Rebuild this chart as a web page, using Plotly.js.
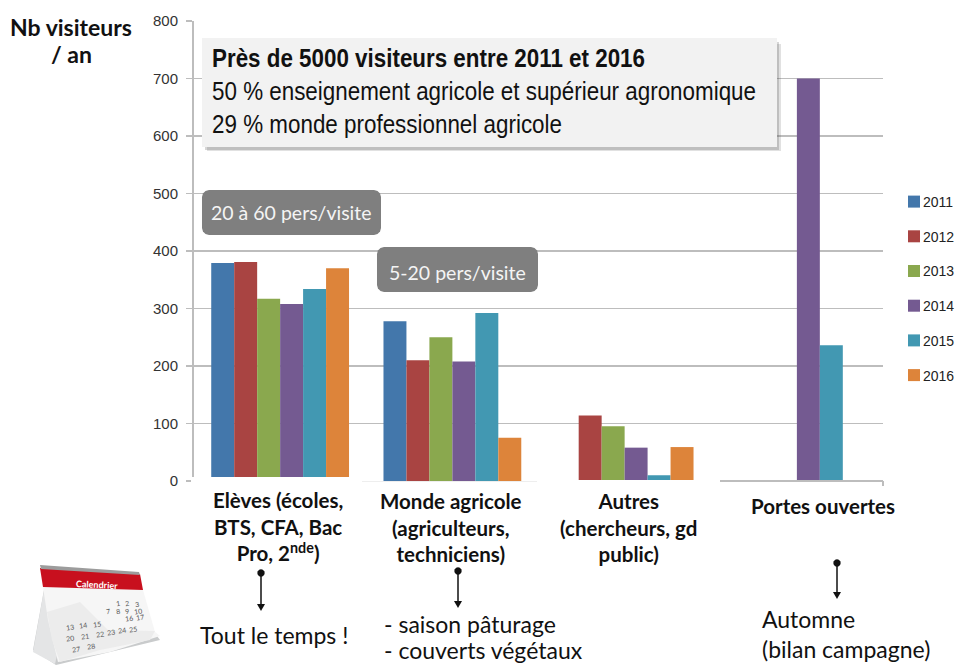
<!DOCTYPE html>
<html><head><meta charset="utf-8">
<script src="https://cdn.plot.ly/plotly-3.0.1.min.js"></script>
<style>html,body{margin:0;padding:0;background:#fff;overflow:hidden}</style></head>
<body><div style="width:957px;height:665px;overflow:hidden"><div id="chart"></div></div>
<script>
const categories = ["Elèves (écoles,<br>BTS, CFA, Bac<br>Pro, 2<sup>nde</sup>)", "Monde agricole<br>(agriculteurs,<br>techniciens)", "Autres<br>(chercheurs, gd<br>public)", "Portes ouvertes"];
const years = ["2011","2012","2013","2014","2015","2016"];
const v2011 = [379, 278, null, null];
const v2012 = [381, 210, 114, null];
const v2013 = [317, 250, 95, null];
const v2014 = [308, 208, 58, 700];
const v2015 = [334, 292, 10, 236];
const v2016 = [370, 75, 59, null];
const seriesValues = [v2011, v2012, v2013, v2014, v2015, v2016];
const colors = ["#4377ab","#a94442","#8aa84e","#745a91","#4298b2","#dd843a"];
const yTicks = [0,100,200,300,400,500,600,700,800];

// the figure is a little wider than the window so that the legend keeps its place beside the plot
const L=194,R=883,T=21,B=481,W=1010;
const px=x=>(x-L)/(W-L), py=y=>(B-y)/(B-T);
const LATO="Lato, 'Open Sans', sans-serif", SANS="'Liberation Sans',Arial,sans-serif";

const traces = years.map((y,i)=>({type:"bar",name:y,x:[0,1,2,3],y:seriesValues[i],marker:{color:colors[i]},legendgroup:y,hoverinfo:"y+name"}));

const shapes=[];
function poly(pts,fill,line,w){
  const d=pts.map((p,i)=>(i?"L":"M")+px(p[0]).toFixed(5)+" "+py(p[1]).toFixed(5)).join(" ")+" Z";
  shapes.push({type:"path",xref:"paper",yref:"paper",path:d,fillcolor:fill,line:{color:line||"rgba(0,0,0,0)",width:w||0},layer:"above"});
}
function rect(x0,y0,x1,y1,fill){poly([[x0,y0],[x1,y0],[x1,y1],[x0,y1]],fill);}
function rrect(x0,y0,x1,y1,r,fill){
  const pts=[];
  [[x1-r,y0+r,-90],[x1-r,y1-r,0],[x0+r,y1-r,90],[x0+r,y0+r,180]].forEach(c=>{
    for(let a=0;a<=90;a+=30){const t=(c[2]+a)*Math.PI/180;pts.push([c[0]+r*Math.cos(t),c[1]+r*Math.sin(t)]);}
  });
  poly(pts,fill);
}
function arrow(x,y0,y1){
  shapes.push({type:"line",xref:"paper",yref:"paper",x0:px(x),x1:px(x),y0:py(y0),y1:py(y1-3),line:{color:"#111",width:1.5},layer:"above"});
  const pts=[];for(let a=0;a<360;a+=30){const t=a*Math.PI/180;pts.push([x+3.7*Math.cos(t),y0+3.7*Math.sin(t)]);}
  poly(pts,"#111");
  poly([[x-4,y1-6],[x+4,y1-6],[x,y1+1]],"#111");
}
// white label backgrounds that overlap the foot of the chart in the reference
rect(191,477,362,484,"#ffffff");
rect(537,480,720,484,"#ffffff");
rect(362,481,537,482,"#eeeeee");
rect(720,480,883,482,"#bdbdbd");
rect(882,481,884,486,"#bdbdbd");
// info boxes
rect(207,44,781,151,"rgba(90,90,90,0.18)");
rect(205,42,779,150,"rgba(90,90,90,0.25)");
rect(202,38,777,147,"#f2f2f2");
rrect(202,190,381,235,7,"#7f7f7f");
rrect(377,247,538,292,7,"#7f7f7f");
arrow(261,573,610); arrow(458,571,607); arrow(837,563,598);
// calendar illustration
poly([[44,590],[33,650],[56,665],[160,640],[130,600]],"#c9cbcc");
poly([[44,590],[33,652],[55,664],[70,600]],"#e4e5e6");
poly([[43,587],[143,590],[155,632],[160,636],[110,652],[58,662],[48,620]],"#f6f6f6");
poly([[40,568],[140,574],[143,590],[43,587]],"#c8101e");
poly([[40,565],[139,572],[140,575],[41,569]],"#9c9c9c");
poly([[47,612],[80,602],[108,630],[155,631],[150,640],[100,650],[60,662],[52,640]],"#ececec");

const ann=[];
function t(x,y,text,size,opt){ann.push(Object.assign({xref:"paper",yref:"paper",x:px(x),y:py(y),text,showarrow:false,xanchor:"left",yanchor:"middle",font:{family:LATO,size,color:"#111"},align:"left"},opt||{}));}
function c(x,y,text,size,opt){t(x,y,text,size,Object.assign({xanchor:"center",align:"center"},opt||{}));}

c(71,27,"<b>Nb visiteurs</b>",23);
c(71,54,"<b>/ an</b>",23);
const boxFont={family:SANS,size:26,color:"#111"};
t(210,58,"<b>Près de 5000 visiteurs entre 2011 et 2016</b>",26,{font:boxFont});
t(210,91,"50 % enseignement agricole et supérieur agronomique",26,{font:boxFont});
t(210,124,"29 % monde professionnel agricole",26,{font:boxFont});
c(291,212,"20 à 60 pers/visite",19.5,{font:{family:LATO,size:19.5,color:"#f4f4f4"}});
c(457,272,"5-20 pers/visite",19.5,{font:{family:LATO,size:19.5,color:"#f4f4f4"}});
const catPos=[[278,526],[451,527],[628,527],[823,506]];
categories.forEach((s,i)=>{c(catPos[i][0],catPos[i][1],"<b>"+s+"</b>",20.5,{font:{family:LATO,size:20.5,color:"#111"}});});
t(198,635,"Tout le temps !",23);
t(382,624,"- saison pâturage",23);
t(382,650,"- couverts végétaux",23);
t(760,619,"Automne",23);
t(760,649,"(bilan campagne)",23);
// calendar text
c(97,584,"<b>Calendrier</b>",9,{textangle:3,font:{family:LATO,size:9,color:"#fff"}});
[[118,603,"1"],[127,603,"2"],[137,604,"3"],[108,611,"7"],[118,611,"8"],[127,611,"9"],[138,611,"10"],[129,618,"16"],[140,617,"17"],
 [70,627,"13"],[83,625,"14"],[97,624,"15"],[70,638,"20"],[85,636,"21"],[100,634,"22"],[111,632,"23"],[122,630,"24"],[133,629,"25"],[76,649,"27"],[91,646,"28"]].forEach(a=>{
  c(a[0],a[1],a[2],7,{textangle:-8,font:{family:LATO,size:7,color:"#555"}});
});

const layout={
  width:W,height:665,autosize:false,showlegend:true,
  margin:{l:L,r:0,t:T,b:665-B,pad:0},
  paper_bgcolor:"#fff",plot_bgcolor:"#fff",
  barmode:"group",bargap:0.2,bargroupgap:0,
  xaxis:{domain:[0,(R-L)/(W-L)],type:"linear",range:[-0.5,3.5],showticklabels:false,showgrid:false,zeroline:false,showline:false,ticks:""},
  yaxis:{range:[0,800],tickvals:yTicks,ticktext:yTicks.map(String),tickfont:{family:SANS,size:15,color:"#333"},ticklabelstandoff:5,
    showgrid:true,gridcolor:"#bdbdbd",gridwidth:1.5,zeroline:false,showline:true,linecolor:"#bdbdbd",linewidth:2,ticks:"outside",ticklen:6,tickcolor:"#bdbdbd",tickwidth:1.5},
  legend:{x:px(883),xanchor:"left",y:py(186),yanchor:"top",font:{family:SANS,size:14,color:"#222"},tracegroupgap:13.5,itemwidth:30,bgcolor:"rgba(0,0,0,0)",traceorder:"grouped"},
  shapes:shapes,
  annotations:ann
};
Plotly.newPlot("chart",traces,layout,{displayModeBar:false,staticPlot:true}).then(gd=>{
  // the reference's box text is a condensed face: fit each line to its measured width
  const fit={"Près de":433,"50 %":544,"29 %":350};
  gd.querySelectorAll("g.annotation text.annotation-text").forEach(el=>{
    const s=el.textContent;
    Object.keys(fit).forEach(k=>{ if(s.startsWith(k)){ el.setAttribute("textLength",fit[k]); el.setAttribute("lengthAdjust","spacingAndGlyphs"); el.querySelectorAll("tspan").forEach(ts=>{ts.setAttribute("textLength",fit[k]);ts.setAttribute("lengthAdjust","spacingAndGlyphs");}); } });
  });
  // legend swatches sit right next to their labels in the reference
  gd.querySelectorAll(".legend g.legendsymbols").forEach(el=>el.setAttribute("transform","translate(11,0)"));
});
</script></body></html>
